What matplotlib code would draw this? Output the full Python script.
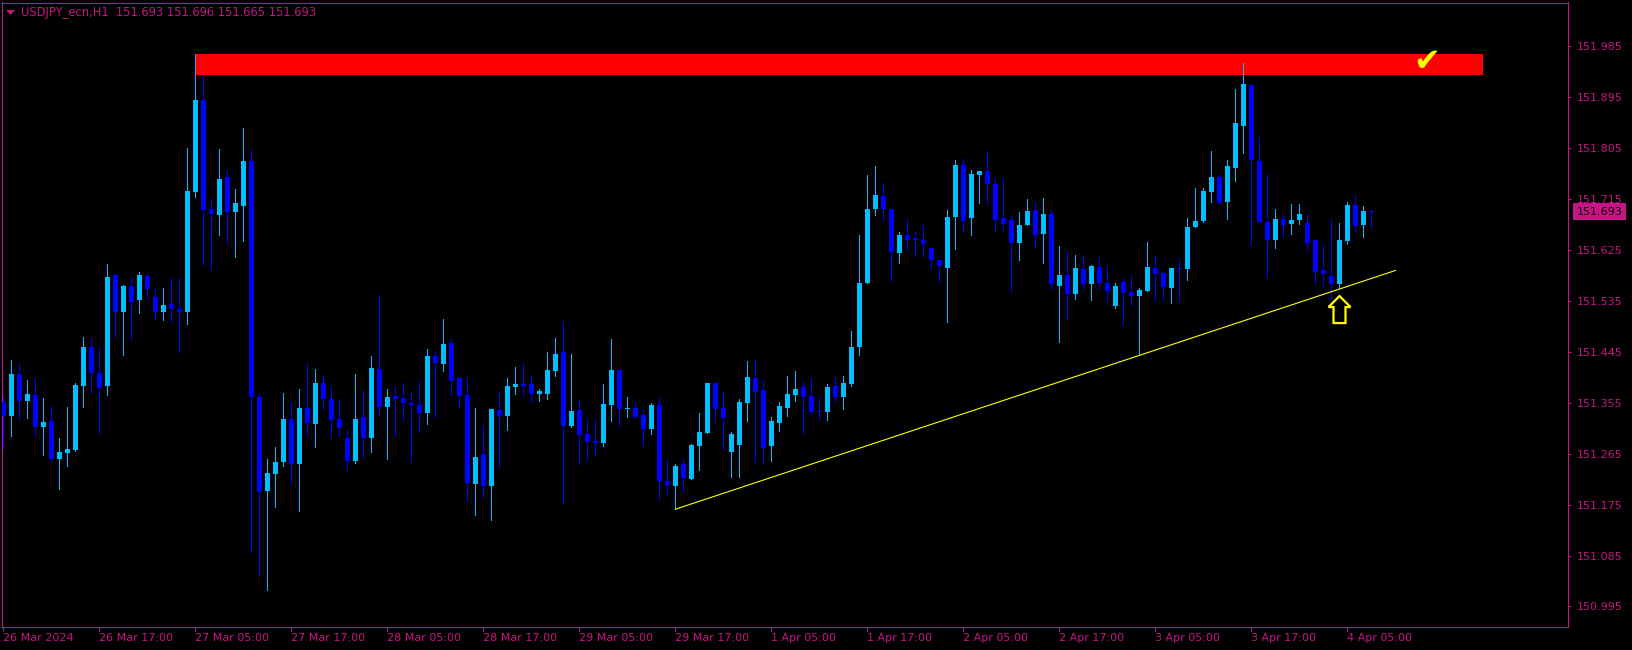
import matplotlib
matplotlib.use("Agg")
import matplotlib.pyplot as plt
import matplotlib.transforms as mtransforms
from matplotlib.patches import Polygon, Rectangle
import numpy as np

# ---------------- data ----------------
opens = [151.356, 151.331, 151.406, 151.359, 151.369, 151.313, 151.323, 151.255, 151.267, 151.272,
         151.385, 151.454, 151.408, 151.384, 151.581, 151.516, 151.562, 151.536, 151.579, 151.542,
         151.516, 151.530, 151.521, 151.516, 151.728, 151.890, 151.698, 151.687, 151.754, 151.692,
         151.703, 151.783, 151.366, 151.199, 151.229, 151.250, 151.326, 151.247, 151.346, 151.318,
         151.390, 151.362, 151.326, 151.293, 151.252, 151.330, 151.293, 151.415, 151.347, 151.367,
         151.364, 151.355, 151.351, 151.337, 151.438, 151.424, 151.461, 151.399, 151.369, 151.212,
         151.265, 151.208, 151.342, 151.332, 151.383, 151.388, 151.388, 151.371, 151.371, 151.411,
         151.445, 151.314, 151.342, 151.300, 151.288, 151.284, 151.351, 151.413, 151.344, 151.346,
         151.334, 151.309, 151.351, 151.217, 151.208, 151.247, 151.221, 151.278, 151.302, 151.390,
         151.346, 151.268, 151.281, 151.355, 151.399, 151.377, 151.278, 151.320, 151.346, 151.369,
         151.383, 151.367, 151.340, 151.339, 151.384, 151.366, 151.388, 151.453, 151.566, 151.698,
         151.720, 151.698, 151.619, 151.652, 151.646, 151.643, 151.629, 151.607, 151.594, 151.684,
         151.775, 151.681, 151.758, 151.764, 151.742, 151.682, 151.678, 151.638, 151.669, 151.695,
         151.654, 151.689, 151.561, 151.581, 151.547, 151.591, 151.565, 151.595, 151.566, 151.526,
         151.569, 151.551, 151.543, 151.552, 151.594, 151.584, 151.558, 151.593, 151.591, 151.665,
         151.676, 151.728, 151.754, 151.710, 151.770, 151.845, 151.917, 151.783, 151.675, 151.643,
         151.680, 151.671, 151.679, 151.672, 151.642, 151.590, 151.580, 151.565, 151.641, 151.705,
         151.669, 151.693]
highs = [151.366, 151.431, 151.425, 151.395, 151.399, 151.364, 151.349, 151.293, 151.348, 151.390,
         151.471, 151.468, 151.453, 151.600, 151.583, 151.563, 151.577, 151.586, 151.583, 151.556,
         151.558, 151.576, 151.576, 151.806, 151.972, 151.932, 151.715, 151.804, 151.767, 151.733,
         151.841, 151.804, 151.372, 151.255, 151.277, 151.372, 151.356, 151.380, 151.424, 151.415,
         151.403, 151.385, 151.362, 151.307, 151.406, 151.378, 151.438, 151.546, 151.380, 151.385,
         151.390, 151.376, 151.394, 151.450, 151.445, 151.503, 151.468, 151.401, 151.401, 151.346,
         151.316, 151.344, 151.374, 151.399, 151.418, 151.425, 151.403, 151.380, 151.445, 151.470,
         151.500, 151.441, 151.360, 151.327, 151.327, 151.388, 151.468, 151.415, 151.365, 151.357,
         151.344, 151.355, 151.365, 151.254, 151.247, 151.256, 151.283, 151.337, 151.390, 151.390,
         151.374, 151.303, 151.361, 151.429, 151.431, 151.393, 151.330, 151.357, 151.402, 151.411,
         151.391, 151.399, 151.365, 151.388, 151.400, 151.402, 151.482, 151.652, 151.758, 151.774,
         151.744, 151.698, 151.657, 151.680, 151.659, 151.669, 151.629, 151.607, 151.695, 151.784,
         151.786, 151.767, 151.765, 151.800, 151.752, 151.753, 151.686, 151.693, 151.715, 151.710,
         151.717, 151.695, 151.632, 151.622, 151.616, 151.616, 151.599, 151.613, 151.599, 151.566,
         151.575, 151.579, 151.558, 151.639, 151.614, 151.587, 151.594, 151.609, 151.681, 151.734,
         151.734, 151.800, 151.758, 151.785, 151.910, 151.956, 151.917, 151.825, 151.759, 151.698,
         151.687, 151.707, 151.707, 151.688, 151.644, 151.634, 151.680, 151.673, 151.710, 151.723,
         151.703, 151.696]
lows = [151.275, 151.297, 151.326, 151.329, 151.298, 151.262, 151.251, 151.203, 151.244, 151.270,
        151.348, 151.372, 151.300, 151.368, 151.470, 151.440, 151.468, 151.514, 151.541, 151.503,
        151.501, 151.498, 151.445, 151.494, 151.719, 151.599, 151.590, 151.652, 151.638, 151.613,
        151.641, 151.092, 151.051, 151.025, 151.171, 151.243, 151.212, 151.164, 151.298, 151.277,
        151.344, 151.293, 151.298, 151.236, 151.249, 151.258, 151.268, 151.334, 151.256, 151.298,
        151.325, 151.250, 151.304, 151.318, 151.330, 151.411, 151.367, 151.348, 151.182, 151.157,
        151.187, 151.148, 151.240, 151.307, 151.371, 151.369, 151.357, 151.358, 151.362, 151.403,
        151.178, 151.312, 151.247, 151.254, 151.263, 151.279, 151.323, 151.314, 151.330, 151.328,
        151.279, 151.300, 151.183, 151.194, 151.167, 151.199, 151.221, 151.237, 151.302, 151.321,
        151.274, 151.223, 151.223, 151.322, 151.250, 151.246, 151.253, 151.305, 151.332, 151.358,
        151.300, 151.336, 151.325, 151.325, 151.356, 151.344, 151.385, 151.440, 151.566, 151.687,
        151.679, 151.571, 151.603, 151.625, 151.615, 151.613, 151.591, 151.569, 151.498, 151.627,
        151.659, 151.652, 151.708, 151.707, 151.659, 151.660, 151.553, 151.607, 151.669, 151.630,
        151.603, 151.556, 151.462, 151.503, 151.539, 151.556, 151.536, 151.556, 151.533, 151.523,
        151.493, 151.528, 151.439, 151.552, 151.536, 151.539, 151.532, 151.533, 151.572, 151.665,
        151.674, 151.710, 151.706, 151.680, 151.747, 151.797, 151.634, 151.675, 151.575, 151.629,
        151.649, 151.654, 151.671, 151.626, 151.566, 151.561, 151.538, 151.558, 151.635, 151.659,
        151.648, 151.665]
closes = [151.332, 151.406, 151.358, 151.371, 151.313, 151.321, 151.256, 151.268, 151.273, 151.387,
          151.454, 151.408, 151.382, 151.577, 151.516, 151.562, 151.534, 151.581, 151.556, 151.516,
          151.528, 151.520, 151.516, 151.729, 151.890, 151.696, 151.689, 151.751, 151.692, 151.708,
          151.783, 151.366, 151.198, 151.231, 151.250, 151.326, 151.247, 151.346, 151.320, 151.390,
          151.361, 151.325, 151.311, 151.252, 151.327, 151.293, 151.417, 151.347, 151.365, 151.361,
          151.354, 151.351, 151.337, 151.438, 151.425, 151.459, 151.394, 151.367, 151.213, 151.259,
          151.208, 151.344, 151.332, 151.385, 151.388, 151.385, 151.371, 151.376, 151.413, 151.441,
          151.314, 151.341, 151.298, 151.286, 151.284, 151.353, 151.413, 151.344, 151.346, 151.330,
          151.309, 151.351, 151.217, 151.210, 151.244, 151.222, 151.281, 151.303, 151.390, 151.344,
          151.329, 151.300, 151.356, 151.401, 151.374, 151.275, 151.322, 151.350, 151.371, 151.380,
          151.366, 151.338, 151.339, 151.383, 151.366, 151.390, 151.454, 151.567, 151.698, 151.723,
          151.698, 151.621, 151.652, 151.643, 151.642, 151.635, 151.607, 151.596, 151.684, 151.775,
          151.676, 151.759, 151.765, 151.742, 151.678, 151.671, 151.638, 151.669, 151.694, 151.652,
          151.689, 151.565, 151.581, 151.547, 151.594, 151.565, 151.596, 151.566, 151.552, 151.561,
          151.549, 151.543, 151.555, 151.595, 151.583, 151.560, 151.594, 151.592, 151.665, 151.676,
          151.729, 151.754, 151.708, 151.774, 151.849, 151.918, 151.785, 151.675, 151.643, 151.680,
          151.669, 151.678, 151.688, 151.638, 151.587, 151.583, 151.565, 151.643, 151.705, 151.668,
          151.694, 151.693]

time_labels = ["26 Mar 2024", "26 Mar 17:00", "27 Mar 05:00", "27 Mar 17:00", "28 Mar 05:00",
               "28 Mar 17:00", "29 Mar 05:00", "29 Mar 17:00", "1 Apr 05:00", "1 Apr 17:00",
               "2 Apr 05:00", "2 Apr 17:00", "3 Apr 05:00", "3 Apr 17:00", "4 Apr 05:00"]
time_label_bars = [0, 12, 24, 36, 48, 60, 72, 84, 96, 108, 120, 132, 144, 156, 168]
price_ticks = [150.995, 151.085, 151.175, 151.265, 151.355, 151.445, 151.535,
               151.625, 151.715, 151.805, 151.895, 151.985]

symbol_title = "USDJPY_ecn,H1"
last_bar = [151.693, 151.696, 151.665, 151.693]
current_price = 151.693

zone_start, zone_end = 24, 185
zone_low, zone_high = 151.934, 151.972
trend_x = [84, 174]
trend_y = [151.167, 151.589]
arrow_bar, arrow_price = 167, 151.496
check_bar, check_price = 177.9, 151.957

# ---------------- style ----------------
MAG = "#C71585"
BULL = "#00BFFF"
BEAR = "#0000FF"
W, H = 1633, 650

fig = plt.figure(figsize=(W / 100, H / 100), dpi=100, facecolor="black")
L, R, T, B = 2.5, 1568.5, 2.5, 626.5
ax = fig.add_axes([L / W, 1 - B / H, (R - L) / W, (B - T) / H], facecolor="black")
X0 = -(3.5 - L) / 8.0
X1 = X0 + (R - L) / 8.0
Y1 = 151.985 + (46.43 - T) / 565.7
Y0 = 151.985 - (B - 46.43) / 565.7
ax.set_xlim(X0, X1)
ax.set_ylim(Y0, Y1)

px_per_bar = (R - L) / (X1 - X0)
price_per_px = (Y1 - Y0) / (B - T)

x = np.arange(len(opens))
o = np.array(opens); h = np.array(highs); l = np.array(lows); c = np.array(closes)
bull = c > o
cols = np.where(bull, BULL, BEAR)

# zone rectangle (background)
ax.add_patch(Rectangle((zone_start, zone_low), zone_end - zone_start, zone_high - zone_low,
                       facecolor="#FF0000", edgecolor="none", zorder=1))

# wicks
ax.vlines(x, l, h, colors=cols, linewidth=0.72, zorder=3, antialiased=False)
# bodies
bot = np.minimum(o, c)
hgt = np.maximum(np.abs(c - o), price_per_px)
ax.bar(x, hgt, bottom=bot, width=5.0 / px_per_bar, color=cols, linewidth=0,
       zorder=4, antialiased=False)

# trend line
ax.plot(trend_x, trend_y, color="#FFFF00", linewidth=0.8, zorder=5)

# arrow (hollow up arrow) below bar
bw = 1.0 / px_per_bar
pw = price_per_px
arrow = [(0, 27), (11, 16), (6, 16), (6, 0), (-6, 0), (-6, 16), (-11, 16)]
verts = [(arrow_bar + dx * bw, arrow_price + dy * pw) for dx, dy in arrow]
ax.add_patch(Polygon(verts, closed=True, facecolor="none", edgecolor="#FFFF00",
                     linewidth=1.6, zorder=6, joinstyle="miter"))
# check mark
ax.text(check_bar, check_price, "\u2714", color="#FFFF00", fontsize=23,
        ha="center", va="center", zorder=7, family="DejaVu Sans")

# axes styling
for s in ax.spines.values():
    s.set_color(MAG)
    s.set_linewidth(0.8)
ax.yaxis.tick_right()
ax.set_yticks(price_ticks)
ax.set_yticklabels([f"{p:.3f}" for p in price_ticks])
ax.set_xticks(time_label_bars)
ax.set_xticklabels(time_labels, ha="left")
ax.tick_params(axis="y", which="both", direction="out", length=2.5, width=0.8,
               colors=MAG, labelsize=8, pad=3.5, left=False, right=True)
ax.tick_params(axis="x", which="both", direction="out", length=3, width=0.8,
               colors=MAG, labelsize=8, pad=2.0)

# current price label
trans = mtransforms.blended_transform_factory(ax.transAxes, ax.transData)
ax.text(1.0050, current_price, f"{current_price:.3f}", transform=trans, color="black",
        fontsize=8, ha="left", va="center", zorder=10, clip_on=False,
        bbox=dict(boxstyle="square,pad=0.32", facecolor=MAG, edgecolor="none"))

# header
hdr = f"{symbol_title}  " + " ".join(f"{v:.3f}" for v in last_bar)
fig.text(21 / W, 1 - 12.6 / H, hdr, color=MAG, fontsize=8.3, ha="left", va="center")
tri = [(6 / W, 1 - 10 / H), (15 / W, 1 - 10 / H), (10.5 / W, 1 - 15 / H)]
fig.add_artist(Polygon(tri, closed=True, transform=fig.transFigure,
                       facecolor=MAG, edgecolor="none"))

fig.savefig("out.png", dpi=100, facecolor="black")
